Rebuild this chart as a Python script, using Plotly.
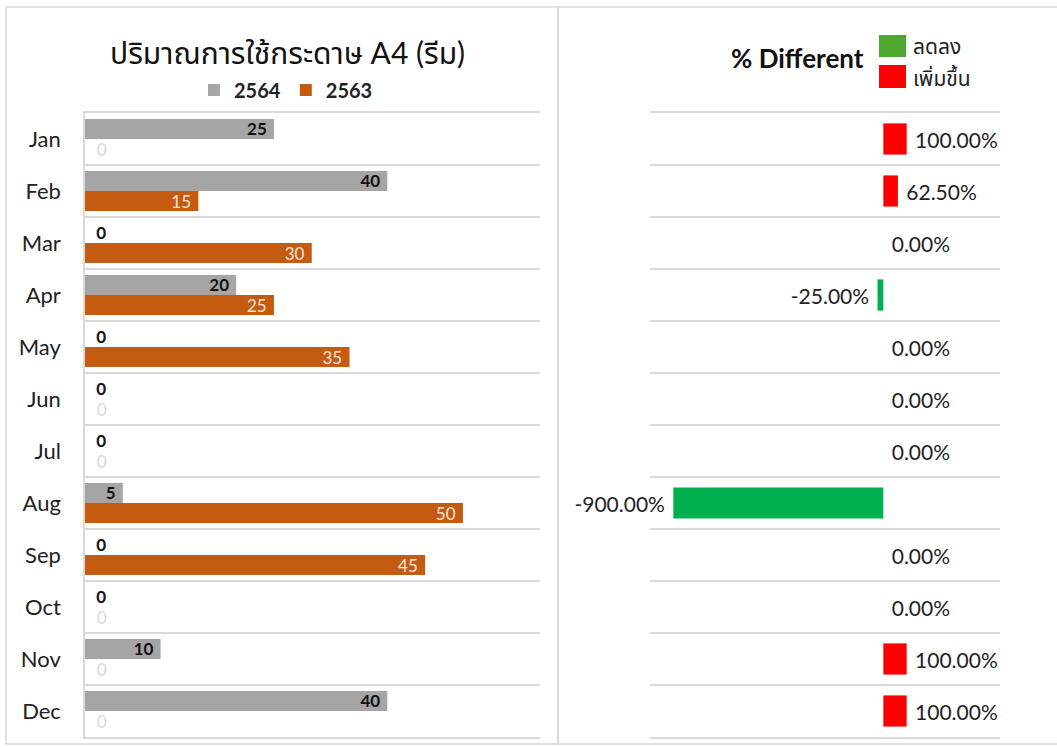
import plotly.graph_objects as go

months = ["Jan", "Feb", "Mar", "Apr", "May", "Jun", "Jul", "Aug", "Sep", "Oct", "Nov", "Dec"]
y2564 = [25, 40, 0, 20, 0, 0, 0, 5, 0, 0, 10, 40]
y2563 = [0, 15, 30, 25, 35, 0, 0, 50, 45, 0, 0, 0]
pct_diff = [1.0, 0.625, 0.0, -0.25, 0.0, 0.0, 0.0, -9.0, 0.0, 0.0, 1.0, 1.0]

W, H = 1057, 747
def px(x): return x / W
def py(y): return 1 - y / H

FONT = "Lato, 'Noto Sans', 'Noto Sans Thai', sans-serif"
GRAY = "#A5A5A5"
ORANGE = "#C55A11"
GREEN = "#00B050"
RED = "#FF0000"
GRID = "#D9D9D9"
NB = "\u00a0"

def lab(v):
    return f"{v}{NB}" if v else f"{NB}{NB}{v}"

fig = go.Figure()

# left chart
fig.add_trace(go.Bar(
    y=months, x=y2564, orientation="h", name="2564", marker=dict(color=GRAY, line=dict(width=0)),
    text=[lab(v) for v in y2564],
    textposition=["inside" if v else "outside" for v in y2564],
    insidetextanchor="end", textangle=0, constraintext="none",
    textfont=dict(color="#111111", size=17, family=FONT, weight="bold"),
    cliponaxis=False, xaxis="x", yaxis="y", legend="legend",
))
fig.add_trace(go.Bar(
    y=months, x=y2563, orientation="h", name="2563", marker=dict(color=ORANGE, line=dict(width=0)),
    text=[lab(v) for v in y2563],
    textposition=["inside" if v else "outside" for v in y2563],
    insidetextanchor="end", textangle=0, constraintext="none",
    textfont=dict(color=["#FAE6D9" if v else "#D9D9D9" for v in y2563], size=17, family=FONT),
    cliponaxis=False, xaxis="x", yaxis="y", legend="legend",
))

# right chart
dec = [v if v < 0 else None for v in pct_diff]
inc = [v if v >= 0 else None for v in pct_diff]
for vals, col, nm, tmpl in [(dec, GREEN, "ลดลง", "%{x:.2%}" + NB),
                            (inc, RED, "เพิ่มขึ้น", NB + "%{x:.2%}")]:
    fig.add_trace(go.Bar(
        y=months, x=vals, orientation="h", name=nm, marker=dict(color=col, line=dict(width=0)),
        width=0.6, offset=-0.3,
        texttemplate=tmpl, textposition="outside", textangle=0, constraintext="none",
        textfont=dict(color="#222222", size=21, family=FONT),
        cliponaxis=False, xaxis="x2", yaxis="y2", showlegend=False,
    ))

ydom = [py(737), py(113)]
fig.update_layout(
    width=W, height=H,
    margin=dict(l=0, r=0, t=0, b=0),
    paper_bgcolor="white", plot_bgcolor="white",
    barmode="group", bargap=0.23, bargroupgap=0,
    font=dict(family=FONT, color="#222222"),
    xaxis=dict(domain=[px(85), px(540)], range=[0, 60.2], showticklabels=False,
               showgrid=False, zeroline=False, showline=True, mirror=True,
               linecolor=GRID, linewidth=1.5, ticks=""),
    yaxis=dict(domain=ydom, anchor="x", type="category", autorange="reversed",
               tickson="boundaries", showgrid=True, gridcolor=GRID, gridwidth=1.5,
               showline=True, linecolor=GRID, linewidth=1.5, ticks="",
               tickfont=dict(size=22, color="#222222", family=FONT), ticklabelstandoff=18),
    xaxis2=dict(domain=[px(650), px(1000)], range=[-10, 5], showticklabels=False,
                showgrid=False, zeroline=False, showline=True, mirror=True,
                linecolor=GRID, linewidth=1.5, ticks="", anchor="y2"),
    yaxis2=dict(domain=ydom, anchor="x2", type="category", autorange="reversed",
                tickson="boundaries", showgrid=True, gridcolor=GRID, gridwidth=1.5,
                showline=False, showticklabels=False, ticks=""),
    legend=dict(orientation="h", x=px(286), xanchor="center", y=py(90), yanchor="middle",
                font=dict(size=20, family=FONT, weight="bold", color="#222222"),
                itemwidth=30, bgcolor="rgba(0,0,0,0)"),
    shapes=[
        dict(type="rect", xref="paper", yref="paper", x0=px(6), x1=px(558), y0=py(744), y1=py(7),
             line=dict(color=GRID, width=1.5)),
        dict(type="rect", xref="paper", yref="paper", x0=px(558), x1=px(1060), y0=py(744), y1=py(7),
             line=dict(color=GRID, width=1.5)),
        dict(type="rect", xref="paper", yref="paper", x0=px(879), x1=px(906), y0=py(57), y1=py(35),
             fillcolor="#4EA72E", line=dict(width=0)),
        dict(type="rect", xref="paper", yref="paper", x0=px(879), x1=px(906), y0=py(88), y1=py(65),
             fillcolor=RED, line=dict(width=0)),
    ],
    annotations=[
        dict(text="ปริมาณการใช้กระดาษ A4 (รีม)", xref="paper", yref="paper", x=px(287), y=py(52),
             xanchor="center", yanchor="middle",
             showarrow=False, font=dict(size=30, family=FONT, color="#111111")),
        dict(text="<b>% Different</b>", xref="paper", yref="paper", x=px(866), y=py(58),
             xanchor="right", yanchor="middle", showarrow=False,
             font=dict(size=26, family=FONT, color="#111111")),
        dict(text="ลดลง", xref="paper", yref="paper", x=px(911), y=py(46), xanchor="left",
             yanchor="middle", showarrow=False, font=dict(size=21, family=FONT, color="#222222")),
        dict(text="เพิ่มขึ้น", xref="paper", yref="paper", x=px(911), y=py(77), xanchor="left",
             yanchor="middle", showarrow=False, font=dict(size=21, family=FONT, color="#222222")),
    ],
)

fig.write_html("out.html", config={"displayModeBar": False},
               post_script="document.body.style.margin='0';")
